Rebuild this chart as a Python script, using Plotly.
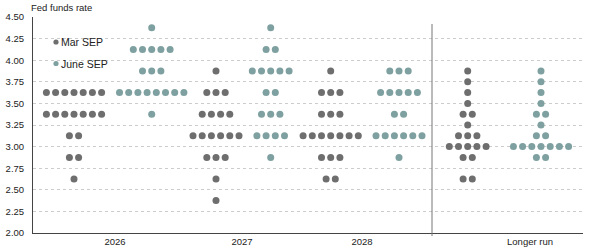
import plotly.graph_objects as go

# ---- data (rate level -> number of participants) ----
categories = ["2026", "2027", "2028", "Longer run"]
series_names = ["Mar SEP", "June SEP"]

mar_2026 = {3.625: 7, 3.375: 7, 3.125: 2, 2.875: 2, 2.625: 1}
jun_2026 = {4.375: 1, 4.125: 5, 3.875: 3, 3.625: 8, 3.375: 1}
mar_2027 = {3.875: 1, 3.625: 3, 3.375: 4, 3.125: 6, 2.875: 3, 2.625: 1, 2.375: 1}
jun_2027 = {4.375: 1, 4.125: 2, 3.875: 5, 3.625: 2, 3.375: 3, 3.125: 4, 2.875: 1}
mar_2028 = {3.875: 1, 3.625: 3, 3.375: 3, 3.125: 7, 2.875: 3, 2.625: 2}
jun_2028 = {3.875: 3, 3.625: 5, 3.375: 2, 3.125: 6, 2.875: 1}
mar_lr = {3.875: 1, 3.75: 1, 3.625: 1, 3.5: 1, 3.375: 2, 3.25: 1, 3.125: 3, 3.0: 5, 2.875: 2, 2.625: 2}
jun_lr = {3.875: 1, 3.75: 1, 3.625: 1, 3.5: 1, 3.375: 2, 3.25: 1, 3.125: 2, 3.0: 7, 2.875: 2}

mar_series = [mar_2026, mar_2027, mar_2028, mar_lr]
jun_series = [jun_2026, jun_2027, jun_2028, jun_lr]

y_ticks = [2.00, 2.25, 2.50, 2.75, 3.00, 3.25, 3.50, 3.75, 4.00, 4.25, 4.50]

# ---- layout / style ----
MAR_COLOR = "#6e6e6e"
JUN_COLOR = "#7fa0a0"
FONT = "Liberation Sans, Arial, sans-serif"
TEXT = "#222222"

# horizontal x-axis scale (in plot px units)
mar_centers = [74, 216, 330.7, 467.7]
jun_centers = [151.7, 270.7, 399, 541]
label_pos = [115, 242, 362, 530]
DOT_STEP = 9.2


def dots(series, centers):
    xs, ys = [], []
    for counts, c in zip(series, centers):
        for rate, n in counts.items():
            for i in range(n):
                xs.append(c + (i - (n - 1) / 2) * DOT_STEP)
                ys.append(rate)
    return xs, ys


fig = go.Figure()
for name, series, centers, color in [
    (series_names[0], mar_series, mar_centers, MAR_COLOR),
    (series_names[1], jun_series, jun_centers, JUN_COLOR),
]:
    xs, ys = dots(series, centers)
    fig.add_trace(go.Scatter(
        x=xs, y=ys, mode="markers", name=name, showlegend=False,
        marker=dict(size=7, color=color, line=dict(width=0)),
        hoverinfo="y",
    ))

X0, X1 = 33, 583
fig.update_layout(
    width=602, height=252,
    margin=dict(l=33, r=602 - X1, t=17, b=19, autoexpand=False),
    paper_bgcolor="white", plot_bgcolor="white",
    font=dict(family=FONT, size=9.5, color=TEXT),
    xaxis=dict(
        range=[X0, X1], showgrid=False, zeroline=False, automargin=False,
        tickmode="array", tickvals=label_pos, ticktext=categories,
        showline=True, linecolor="#444444", linewidth=1,
        ticks="", tickfont=dict(size=9.5, color=TEXT),
        fixedrange=True,
    ),
    yaxis=dict(
        range=[2.0, 4.5], tickmode="array", tickvals=y_ticks,
        ticktext=[f"{v:.2f}" for v in y_ticks], automargin=False,
        showgrid=True, gridcolor="#cccccc", griddash="dot", gridwidth=1,
        zeroline=False, showline=True, linecolor="#444444", linewidth=1,
        ticks="", ticklabelstandoff=6, tickfont=dict(size=9.5, color=TEXT),
        fixedrange=True,
    ),
    showlegend=False,
)

# separator between projection years and longer run
fig.add_shape(type="line", xref="x", yref="paper", x0=432, x1=432,
              y0=(233 - 24) / 216, y1=-3 / 216,
              line=dict(color="#777777", width=1))

# title
fig.add_annotation(text="Fed funds rate", xref="paper", yref="paper",
                   x=0, y=1, xanchor="left", yanchor="middle",
                   xshift=-4, yshift=10, showarrow=False,
                   font=dict(size=9.5, color=TEXT))

# legend (dots + labels in paper coords)
for label, color, py in [(series_names[0], MAR_COLOR, 42), (series_names[1], JUN_COLOR, 63.5)]:
    yp = (233 - py) / 216
    xp = (56 - X0) / (X1 - X0)
    r = 2.6
    fig.add_shape(type="circle", xref="paper", yref="paper",
                  x0=xp - r / 550, x1=xp + r / 550, y0=yp - r / 216, y1=yp + r / 216,
                  fillcolor=color, line=dict(width=0))
    fig.add_annotation(text=label, xref="paper", yref="paper",
                       x=(59 - X0) / (X1 - X0), y=yp, xanchor="left", yanchor="middle",
                       showarrow=False, font=dict(size=10.5, color=TEXT))

fig.write_html("out.html")
